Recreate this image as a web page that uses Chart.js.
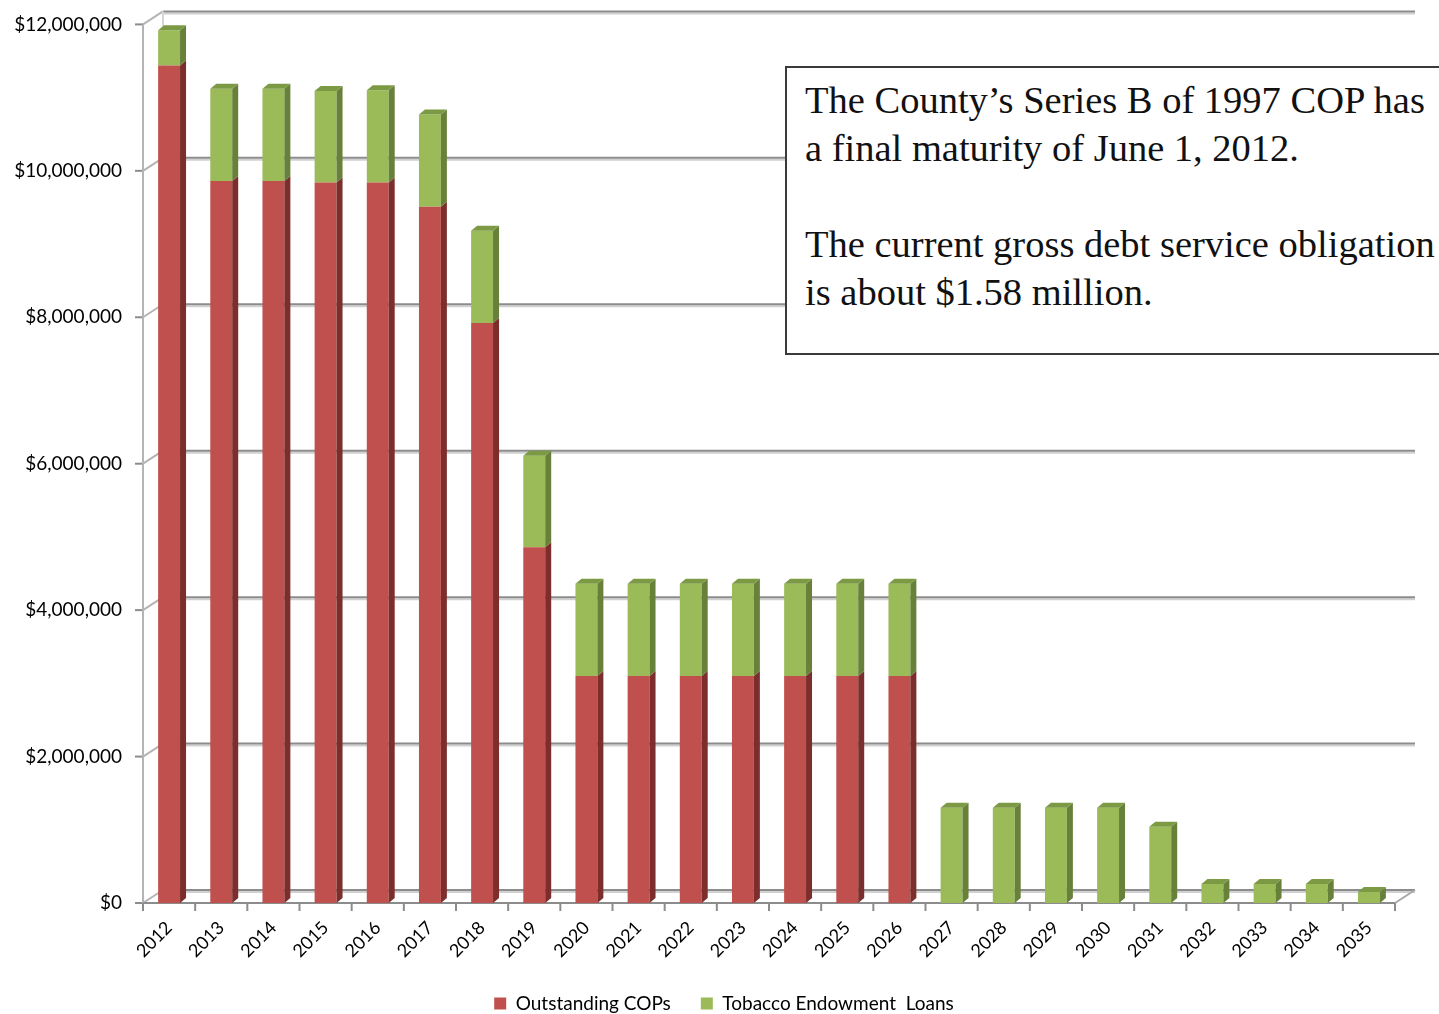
<!DOCTYPE html>
<html lang="en">
<head>
    <meta charset="UTF-8">
    <title>Outstanding COPs and Tobacco Endowment Loans</title>
    <script src="https://cdn.jsdelivr.net/npm/chart.js@4.4.1/dist/chart.umd.min.js"></script>
    <style>
        html, body {
            margin: 0;
            padding: 0;
            background: #fff;
            overflow: hidden;
        }
        #wrap {
            position: relative;
            width: 1439px;
            height: 1014px;
        }
        #note {
            position: absolute;
            left: 785px;
            top: 66px;
            width: 700px;
            height: 289px;
            border: 2px solid #3a3a3a;
            background: #fff;
            box-sizing: border-box;
            padding: 8px 0 0 18px;
            font-family: 'Liberation Serif', 'DejaVu Serif', serif;
            font-size: 38.5px;
            line-height: 48px;
            color: #111;
            white-space: nowrap;
        }
    </style>
</head>
<body>

<div id="wrap">
    <canvas id="chart" width="1439" height="1014"></canvas>
    <div id="note">
        The County’s Series B of 1997 COP has<br>
        a final maturity of June 1, 2012.<br>
        <br>
        The current gross debt service obligation<br>
        is about $1.58 million.
    </div>
</div>

<script>
    // values, in dollars
    const years = ['2012', '2013', '2014', '2015', '2016', '2017', '2018', '2019', '2020', '2021', '2022', '2023',
        '2024', '2025', '2026', '2027', '2028', '2029', '2030', '2031', '2032', '2033', '2034', '2035']
    const outstandingCops = [11440000, 9860000, 9860000, 9840000, 9840000, 9510000, 7920000, 4860000,
        3100000, 3100000, 3100000, 3100000, 3100000, 3100000, 3100000, 0, 0, 0, 0, 0, 0, 0, 0, 0]
    const tobaccoLoans = [480000, 1260000, 1260000, 1250000, 1260000, 1260000, 1260000, 1250000,
        1260000, 1260000, 1260000, 1260000, 1260000, 1260000, 1260000, 1300000, 1300000, 1300000, 1300000,
        1040000, 260000, 260000, 260000, 150000]
    const yTicks = [0, 2000000, 4000000, 6000000, 8000000, 10000000, 12000000]

    const DX = 20, DY = 13        // wall depth
    const BDX = 6, BDY = 5        // bar depth

    // back walls, gridlines and floor, drawn before the bars
    const walls = {
        id: 'walls',
        beforeDatasetsDraw(chart) {
            const c = chart.ctx
            const a = chart.chartArea
            const y = chart.scales.y
            const x = chart.scales.x
            c.save()
            c.lineWidth = 2
            yTicks.forEach(v => {
                const py = y.getPixelForValue(v)
                // light shadow under the grid line
                c.strokeStyle = '#d0d0d0'
                c.beginPath()
                c.moveTo(a.left + DX, py - DY + 2)
                c.lineTo(a.right + DX, py - DY + 2)
                c.stroke()
                c.strokeStyle = '#8c8c8c'
                c.beginPath()
                c.moveTo(a.left + DX, py - DY)
                c.lineTo(a.right + DX, py - DY)
                c.stroke()
                // side wall slant
                c.strokeStyle = '#b4b4b4'
                c.beginPath()
                c.moveTo(a.left, py)
                c.lineTo(a.left + DX, py - DY)
                c.stroke()
                // tick
                c.strokeStyle = '#8c8c8c'
                c.beginPath()
                c.moveTo(a.left - 8, py)
                c.lineTo(a.left, py)
                c.stroke()
            })
            // left wall edges
            c.strokeStyle = '#b4b4b4'
            c.beginPath()
            c.moveTo(a.left, y.getPixelForValue(12000000))
            c.lineTo(a.left, y.getPixelForValue(0))
            c.stroke()
            c.strokeStyle = '#d6d6d6'
            c.beginPath()
            c.moveTo(a.left + DX, y.getPixelForValue(12000000) - DY)
            c.lineTo(a.left + DX, y.getPixelForValue(0) - DY)
            c.stroke()
            // floor front edge and right slant
            const p0 = y.getPixelForValue(0)
            c.strokeStyle = '#8c8c8c'
            c.beginPath()
            c.moveTo(a.left, p0)
            c.lineTo(a.right, p0)
            c.stroke()
            c.strokeStyle = '#a8a8a8'
            c.beginPath()
            c.moveTo(a.right, p0)
            c.lineTo(a.right + DX, p0 - DY)
            c.stroke()
            // category ticks on the floor edge
            c.strokeStyle = '#8c8c8c'
            const half = (x.getPixelForValue(1) - x.getPixelForValue(0)) / 2
            for (let i = 0; i <= years.length; i++) {
                const px = x.getPixelForValue(0) - half + i * half * 2
                c.beginPath()
                c.moveTo(px, p0)
                c.lineTo(px, p0 + 8)
                c.stroke()
            }
            c.restore()
        },
        afterDatasetsDraw(chart) {
            const c = chart.ctx
            const sides = ['#7b2e2c', '#67803a']
            const tops = ['#a0403e', '#7c9a44']
            const metas = [chart.getDatasetMeta(0), chart.getDatasetMeta(1)]
            c.save()
            metas.forEach((meta, di) => {
                meta.data.forEach((bar, i) => {
                    const p = bar.getProps(['x', 'y', 'base', 'width'], true)
                    if (Math.abs(p.base - p.y) < 0.5) return
                    const r = p.x + p.width / 2
                    const l = p.x - p.width / 2
                    c.fillStyle = sides[di]
                    c.beginPath()
                    c.moveTo(r, p.base)
                    c.lineTo(r, p.y)
                    c.lineTo(r + BDX, p.y - BDY)
                    c.lineTo(r + BDX, p.base - BDY)
                    c.closePath()
                    c.fill()
                    const isTop = di === 1 || !(tobaccoLoans[i] > 0)
                    if (isTop) {
                        c.fillStyle = tops[di]
                        c.beginPath()
                        c.moveTo(l, p.y)
                        c.lineTo(r, p.y)
                        c.lineTo(r + BDX, p.y - BDY)
                        c.lineTo(l + BDX, p.y - BDY)
                        c.closePath()
                        c.fill()
                    }
                })
            })
            c.restore()
        },
    }

    const font = "Lato, 'Open Sans', sans-serif"
    const ctx = document.getElementById('chart').getContext('2d')
    const chart = new Chart(ctx, {
        type: 'bar',
        data: {
            labels: years,
            datasets: [
                {
                    label: 'Outstanding COPs',
                    data: outstandingCops,
                    backgroundColor: '#c0504d',
                    borderWidth: 0,
                },
                {
                    label: 'Tobacco Endowment  Loans',
                    data: tobaccoLoans,
                    backgroundColor: '#9bbb59',
                    borderWidth: 0,
                },
            ],
        },
        options: {
            responsive: false,
            animation: false,
            layout: {
                padding: {top: 14, right: 0, left: 9, bottom: -9},
            },
            datasets: {
                bar: {
                    categoryPercentage: 1,
                    barPercentage: 0.42,
                },
            },
            scales: {
                x: {
                    stacked: true,
                    grid: {display: false},
                    border: {display: false},
                    ticks: {
                        color: '#000',
                        font: {family: font, size: 18},
                        minRotation: 45,
                        maxRotation: 45,
                        padding: 6,
                    },
                    afterFit(scale) {
                        scale.height = 61
                    },
                },
                y: {
                    stacked: true,
                    min: 0,
                    max: 12000000,
                    grid: {display: false},
                    border: {display: false},
                    afterBuildTicks(scale) {
                        scale.ticks = yTicks.map(v => ({value: v}))
                    },
                    ticks: {
                        color: '#000',
                        font: {family: font, size: 19},
                        padding: 13,
                        callback: v => '$' + Number(v).toLocaleString('en-US'),
                    },
                    afterFit(scale) {
                        scale.width = 134
                    },
                },
                // empty spacer on the right, keeps room for the back wall
                spacer: {
                    type: 'linear',
                    position: 'right',
                    grid: {display: false},
                    border: {display: false},
                    ticks: {display: false},
                    afterFit(scale) {
                        scale.width = 44
                    },
                },
            },
            plugins: {
                legend: {
                    position: 'bottom',
                    labels: {
                        color: '#000',
                        font: {family: font, size: 19},
                        boxWidth: 12,
                        boxHeight: 12,
                        padding: 30,
                    },
                },
                tooltip: {enabled: false},
            },
        },
        plugins: [walls],
    })
</script>
</body>
</html>
